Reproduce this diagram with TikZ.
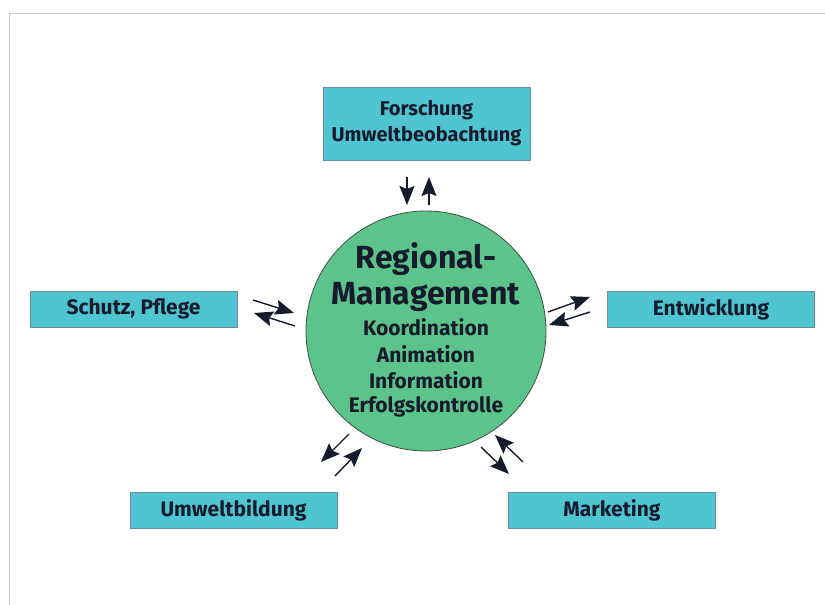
\documentclass[tikz,border=0pt]{standalone}
\usepackage{fontspec}
\setmainfont{Fira Sans}
\usetikzlibrary{arrows.meta}
\definecolor{boxfill}{HTML}{4EC5D0}
\definecolor{boxline}{HTML}{6F8C9A}
\definecolor{circfill}{HTML}{5CC48A}
\definecolor{circline}{HTML}{3A5048}
\definecolor{txt}{HTML}{151B2C}
\definecolor{frameline}{HTML}{C8CCD4}
\tikzset{
  infobox/.style={draw=boxline, line width=0.8pt, fill=boxfill, minimum width=207pt, minimum height=36pt, inner sep=0pt, text=txt, font=\fontsize{21}{24}\selectfont\bfseries},
  bigtxt/.style={text=txt, font=\fontsize{32}{36}\selectfont\bfseries},
  smalltxt/.style={text=txt, font=\fontsize{21}{24}\selectfont\bfseries},
  flow/.style={-{Stealth[length=19pt,width=15pt,inset=3pt]}, line width=1.4pt, color=txt},
}
\begin{document}
\begin{tikzpicture}[x=1pt,y=-1pt]
\useasboundingbox (0,0) rectangle (825,605);
\fill[white] (0,0) rectangle (825,605);
\draw[frameline, line width=1pt] (9,605) -- (9,13) -- (825,13);
% circle
\node (rm) [circle, draw=circline, line width=0.8pt, fill=circfill, minimum size=240pt] at (426,331) {};
\node (t1) [bigtxt] at (426,259) {Regional-};
\node (t2) [bigtxt] at (426,297) {Management};
\node (t3) [smalltxt] at (426,327) {Koordination};
\node (t4) [smalltxt] at (426,354) {Animation};
\node (t5) [smalltxt] at (426,380) {Information};
\node (t6) [smalltxt] at (426,407) {Erfolgskontrolle};
% boxes
\node (fo) [infobox, minimum height=73pt, align=center, font=\fontsize{20}{26}\selectfont\bfseries] at (426.5,123.5) {Forschung\\Umweltbeobachtung};
\node (sp) [infobox] at (133.5,309) {Schutz, Pflege};
\node (en) [infobox] at (711,309) {Entwicklung};
\node (ub) [infobox] at (233.5,510) {Umweltbildung};
\node (mk) [infobox] at (612,510) {Marketing};
% arrow anchor coordinates
\coordinate (a1s) at (407,177); \coordinate (a1e) at (407,205);
\coordinate (a2s) at (429,205); \coordinate (a2e) at (429,177);
\coordinate (b1s) at (253,300); \coordinate (b1e) at (294,313);
\coordinate (b2s) at (295,326); \coordinate (b2e) at (254,313);
\coordinate (c1s) at (548,312); \coordinate (c1e) at (590,297);
\coordinate (c2s) at (590,312); \coordinate (c2e) at (549,325);
\coordinate (d1s) at (349,434); \coordinate (d1e) at (321,462);
\coordinate (d2s) at (335,476); \coordinate (d2e) at (362,448);
\coordinate (e1s) at (481,447); \coordinate (e1e) at (509,474);
\coordinate (e2s) at (523,462); \coordinate (e2e) at (495,435);
\draw[flow] (a1s) -- (a1e);
\draw[flow] (a2s) -- (a2e);
\draw[flow] (b1s) -- (b1e);
\draw[flow] (b2s) -- (b2e);
\draw[flow] (c1s) -- (c1e);
\draw[flow] (c2s) -- (c2e);
\draw[flow] (d1s) -- (d1e);
\draw[flow] (d2s) -- (d2e);
\draw[flow] (e1s) -- (e1e);
\draw[flow] (e2s) -- (e2e);
\end{tikzpicture}
\end{document}
